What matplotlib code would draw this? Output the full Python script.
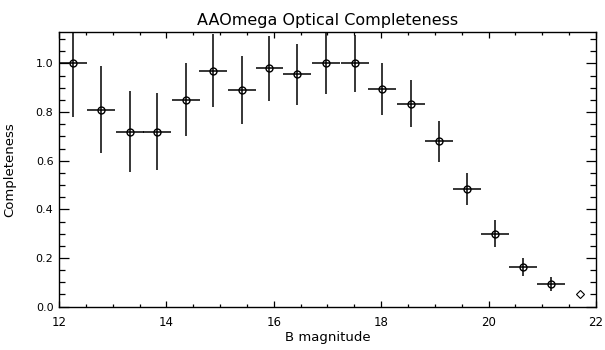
import matplotlib
matplotlib.use('Agg')
import matplotlib.pyplot as plt
from matplotlib.ticker import MultipleLocator, FormatStrFormatter

# B magnitude bin centres, completeness and errors
bmag = [12.27, 12.78, 13.32, 13.83, 14.36, 14.87, 15.41, 15.92, 16.44,
        16.97, 17.51, 18.01, 18.56, 19.08, 19.60, 20.12, 20.65, 21.17]
compl = [1.00, 0.81, 0.72, 0.72, 0.85, 0.97, 0.89, 0.98, 0.955,
         1.00, 1.00, 0.895, 0.835, 0.68, 0.485, 0.30, 0.163, 0.093]
compl_err = [0.22, 0.18, 0.168, 0.158, 0.15, 0.15, 0.14, 0.134, 0.127,
             0.125, 0.116, 0.106, 0.097, 0.085, 0.066, 0.055, 0.036, 0.03]
bin_half = 0.26

# last bin, plotted as a diamond without errors
last_mag = [21.70]
last_compl = [0.051]

fig = plt.figure(figsize=(6.05, 3.5), dpi=100)
ax = fig.add_axes([0.0975, 0.124, 0.8875, 0.785])

ax.errorbar(bmag, compl, yerr=compl_err, xerr=bin_half, fmt='o',
            mfc='none', mec='black', ms=5, mew=1.0,
            ecolor='black', elinewidth=1.1, capsize=0, color='black')
ax.plot(last_mag, last_compl, 'D', mfc='none', mec='black', ms=4.5, mew=0.8)

ax.set_xlim(12, 22)
ax.set_ylim(0, 1.13)
ax.xaxis.set_major_locator(MultipleLocator(2))
ax.xaxis.set_minor_locator(MultipleLocator(0.5))
ax.yaxis.set_major_locator(MultipleLocator(0.2))
ax.yaxis.set_minor_locator(MultipleLocator(0.05))
ax.yaxis.set_major_formatter(FormatStrFormatter('%.1f'))

ax.tick_params(axis='both', which='both', direction='in', top=True, right=True,
               width=0.9)
ax.tick_params(axis='x', which='major', length=4, pad=7, labelsize=8.5)
ax.tick_params(axis='x', which='minor', length=2)
ax.tick_params(axis='y', which='major', length=7, pad=4, labelsize=8)
ax.tick_params(axis='y', which='minor', length=4.3)
for s in ax.spines.values():
    s.set_linewidth(1.0)

ax.set_title('AAOmega Optical Completeness', fontsize=11.5, pad=5)
ax.set_xlabel('B magnitude', fontsize=9.5)
ax.xaxis.set_label_coords(0.5, -0.09)
ax.set_ylabel('Completeness', fontsize=9.5)
ax.yaxis.set_label_coords(-0.08, 0.5)

fig.savefig('out.png', dpi=100)
